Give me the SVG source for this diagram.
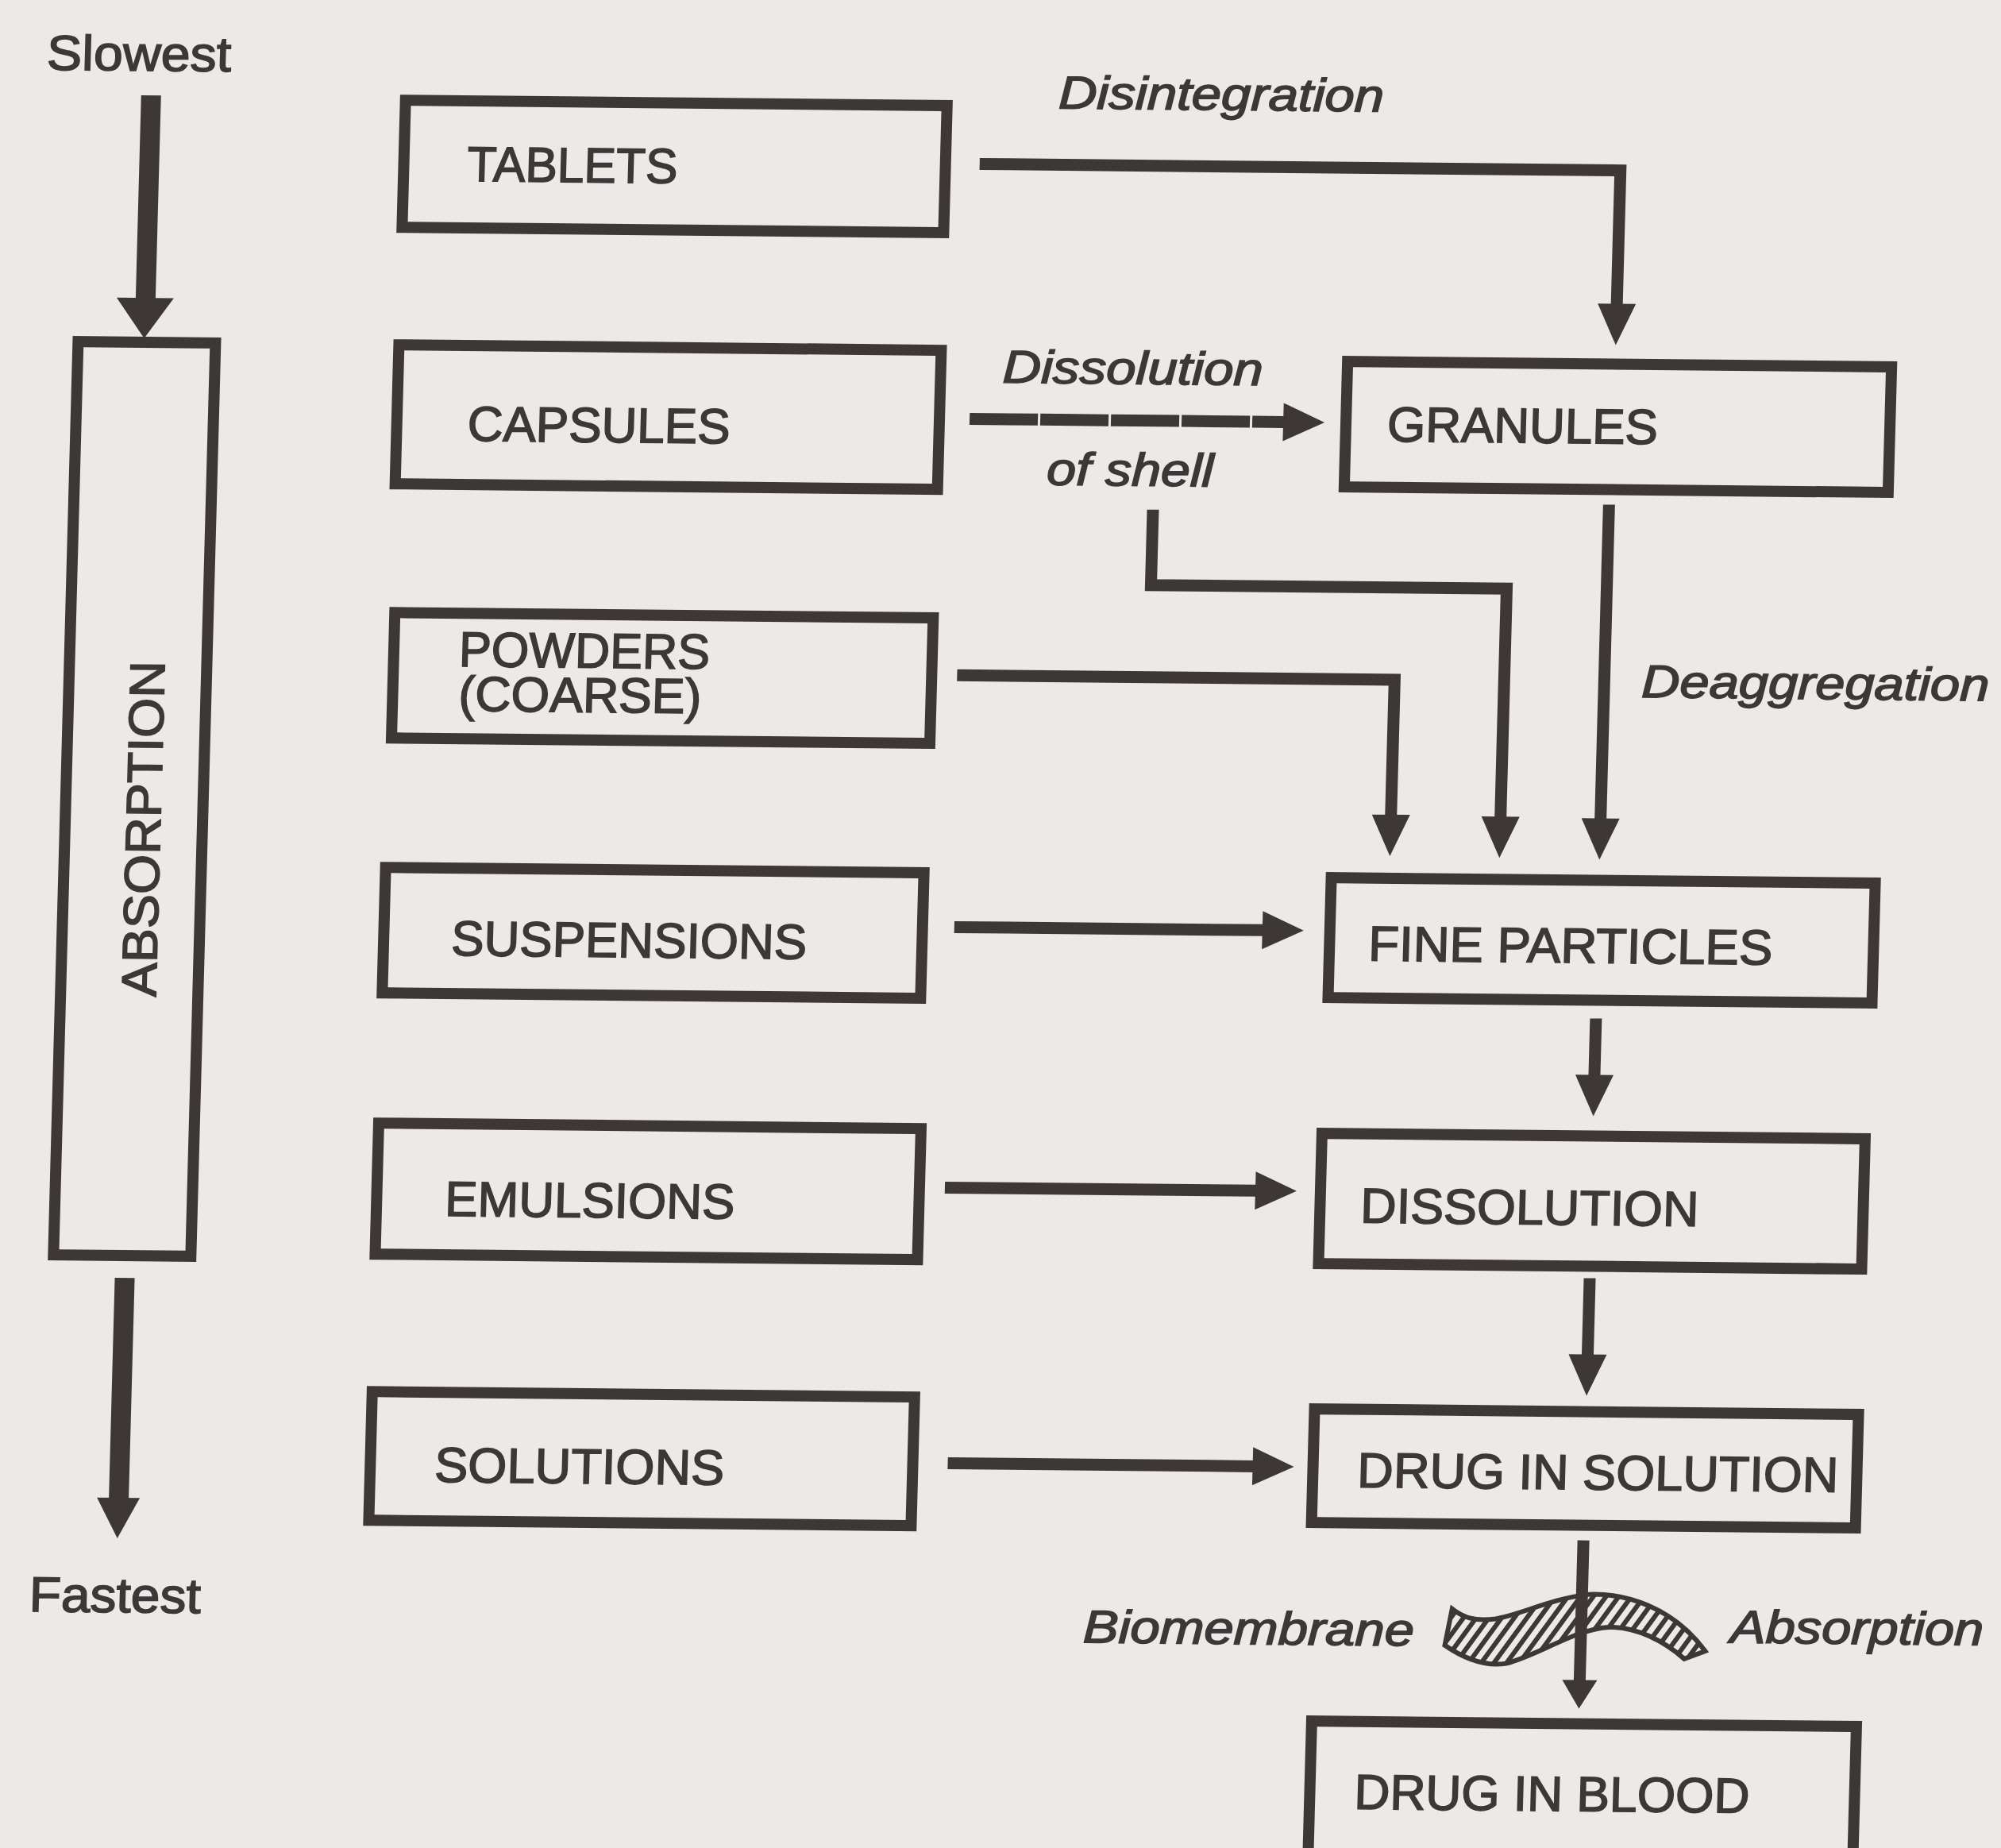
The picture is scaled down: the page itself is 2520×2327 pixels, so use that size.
<svg xmlns="http://www.w3.org/2000/svg" width="2520" height="2327" viewBox="0 0 2520 2327">
<style>
.box{fill:none;stroke:#3e3738;stroke-width:14}
.t{font-family:'Liberation Sans',Arial,Helvetica,sans-serif;font-size:62px;fill:#3e3738;stroke:#3e3738;stroke-width:1.6px}
.it{font-style:italic;font-size:58px}
.conn{fill:none;stroke:#3e3738;stroke-width:15;stroke-linejoin:miter}
.ink{fill:#3e3738}
</style>
<defs>
<marker id="ah" markerUnits="userSpaceOnUse" markerWidth="54" markerHeight="50" refX="2" refY="24" orient="auto" overflow="visible">
<path d="M0,0 L52,24 L0,48 Z" fill="#3e3738"/>
</marker>
<marker id="ahs" markerUnits="userSpaceOnUse" markerWidth="40" markerHeight="46" refX="2" refY="22" orient="auto" overflow="visible">
<path d="M0,0 L36,22 L0,44 Z" fill="#3e3738"/>
</marker>
<pattern id="hatch" patternUnits="userSpaceOnUse" width="13" height="13" patternTransform="rotate(35)">
<rect width="13" height="13" fill="#ebeae8"/>
<rect width="6" height="13" fill="#3e3738"/>
</pattern>
</defs>
<rect width="2520" height="2327" fill="#ebeae8"/>
<g transform="matrix(1 0.01 -0.027 1 31.32 -12.6)">
<g id="speed-scale">
<text class="t" x="30" y="100" font-size="64" textLength="232" lengthAdjust="spacingAndGlyphs">Slowest</text>
<rect class="ink" x="150" y="131" width="25" height="260"/>
<polygon class="ink" points="126,386 198,386 162,437"/>
<rect class="ink" x="157" y="1620" width="25" height="280"/>
<polygon class="ink" points="142,1897 196,1897 169,1948"/>
<text class="t" x="60" y="2041" font-size="64" textLength="216" lengthAdjust="spacingAndGlyphs">Fastest</text>
</g>
<g id="absorption">
<rect class="box" x="79" y="442" width="173" height="1150"/>
<text class="t" transform="translate(199,1266) rotate(-90)" font-size="64" textLength="423" lengthAdjust="spacingAndGlyphs">ABSORPTION</text>
</g>
<g id="tablets">
<rect class="box" x="483" y="134" width="682" height="160"/>
<text class="t" x="563" y="235" textLength="265" lengthAdjust="spacingAndGlyphs">TABLETS</text>
</g>
<g id="capsules">
<rect class="box" x="483" y="442" width="683" height="175"/>
<text class="t" x="572" y="562" textLength="331" lengthAdjust="spacingAndGlyphs">CAPSULES</text>
</g>
<g id="powders">
<rect class="box" x="487" y="779" width="678" height="158"/>
<text class="t" x="569" y="846" textLength="316" lengthAdjust="spacingAndGlyphs">POWDERS</text>
<text class="t" x="570" y="902" textLength="306" lengthAdjust="spacingAndGlyphs">(COARSE)</text>
</g>
<g id="suspensions">
<rect class="box" x="484" y="1100" width="678" height="158"/>
<text class="t" x="569" y="1210" textLength="448" lengthAdjust="spacingAndGlyphs">SUSPENSIONS</text>
</g>
<g id="emulsions">
<rect class="box" x="484" y="1422" width="683" height="165"/>
<text class="t" x="570" y="1538" textLength="365" lengthAdjust="spacingAndGlyphs">EMULSIONS</text>
</g>
<g id="solutions">
<rect class="box" x="485" y="1760" width="683" height="162"/>
<text class="t" x="566" y="1873" textLength="365" lengthAdjust="spacingAndGlyphs">SOLUTIONS</text>
</g>
<g id="granules">
<rect class="box" x="1678" y="451" width="685" height="158"/>
<text class="t" x="1730" y="551" textLength="341" lengthAdjust="spacingAndGlyphs">GRANULES</text>
</g>
<g id="fine-particles">
<rect class="box" x="1675" y="1101" width="685" height="151"/>
<text class="t" x="1724" y="1205" textLength="509" lengthAdjust="spacingAndGlyphs">FINE PARTICLES</text>
</g>
<g id="dissolution">
<rect class="box" x="1672" y="1423" width="684" height="164"/>
<text class="t" x="1723" y="1535" textLength="426" lengthAdjust="spacingAndGlyphs">DISSOLUTION</text>
</g>
<g id="drug-in-solution">
<rect class="box" x="1672" y="1770" width="685" height="143"/>
<text class="t" x="1728" y="1868" textLength="606" lengthAdjust="spacingAndGlyphs">DRUG IN SOLUTION</text>
</g>
<g id="drug-in-blood">
<rect class="box" x="1679" y="2163" width="686" height="250"/>
<text class="t" x="1735" y="2273" textLength="498" lengthAdjust="spacingAndGlyphs">DRUG IN BLOOD</text>
</g>
<g id="biomembrane">
<path d="M1852,2020 C1865,2030 1880,2036 1907,2032 C1940,2026 1975,2006 2024,2000 C2070,1998 2130,2015 2172,2070 L2146,2080 C2120,2058 2085,2040 2050,2041 C2010,2043 1960,2078 1922,2088 C1893,2093 1865,2080 1844,2066 Z" fill="url(#hatch)" stroke="#3e3738" stroke-width="6"/>
</g>
<g id="connectors">
<path class="conn" d="M1208,207 H2015 V377" marker-end="url(#ah)"/>
<path class="conn" d="M1204,528 H1601" stroke-width="17" stroke-dasharray="86 3" marker-end="url(#ah)"/>
<path class="conn" d="M1438,640 V735 H1886 V1024" marker-end="url(#ah)"/>
<path class="conn" d="M1197,851 H1748 V1023" marker-end="url(#ah)"/>
<path class="conn" d="M2012,628 V1025" marker-end="url(#ah)"/>
<path class="conn" d="M1202,1168 H1592" marker-end="url(#ah)"/>
<path class="conn" d="M1199,1496 H1592" marker-end="url(#ah)"/>
<path class="conn" d="M1212,1843 H1598" marker-end="url(#ah)"/>
<path class="conn" d="M2013,1275 V1348" marker-end="url(#ah)"/>
<path class="conn" d="M2014,1602 V1700" marker-end="url(#ah)"/>
<path class="conn" d="M2015,1932 V2110" marker-end="url(#ahs)"/>
</g>
<g id="labels">
<text class="t it" x="1305" y="136" textLength="410" lengthAdjust="spacingAndGlyphs">Disintegration</text>
<text class="t it" x="1244" y="482" textLength="328" lengthAdjust="spacingAndGlyphs">Dissolution</text>
<text class="t it" x="1303" y="610" textLength="210" lengthAdjust="spacingAndGlyphs">of shell</text>
<text class="t it" x="2059" y="870" textLength="438" lengthAdjust="spacingAndGlyphs">Deaggregation</text>
<text class="t it" x="1388" y="2067" textLength="417" lengthAdjust="spacingAndGlyphs">Biomembrane</text>
<text class="t it" x="2203" y="2059" textLength="319" lengthAdjust="spacingAndGlyphs">Absorption</text>
</g>
</g>
</svg>
